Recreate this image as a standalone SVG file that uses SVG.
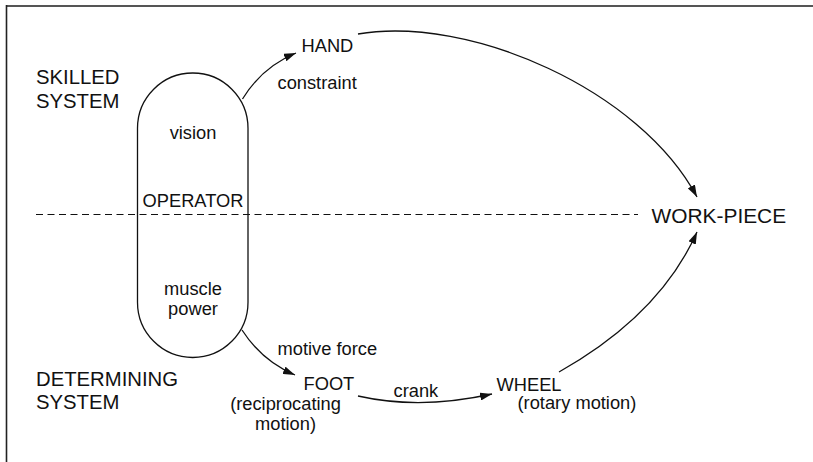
<svg xmlns="http://www.w3.org/2000/svg" width="813" height="462" viewBox="0 0 813 462">
<style>
text{font-family:"Liberation Sans",Arial,sans-serif;fill:#111}
.s{font-size:18.3px}
.b{font-size:20.3px}
.m{text-anchor:middle}
.c{fill:none;stroke:#111;stroke-width:1.3}
</style>
<defs>
<marker id="ah" viewBox="0 0 12 8" refX="12" refY="4" markerWidth="12" markerHeight="8" orient="auto" markerUnits="userSpaceOnUse"><path d="M0,0 L12,4 L0,8 z" fill="#111"/></marker>
</defs>
<rect width="813" height="462" fill="#fff"/>
<g id="frame">
<line x1="6" y1="6" x2="813" y2="6" stroke="#555" stroke-width="2"/>
<line x1="6.5" y1="5" x2="6.5" y2="462" stroke="#222" stroke-width="1.6"/>
</g>
<g id="divider">
<line x1="36" y1="214.5" x2="638" y2="214.5" stroke="#111" stroke-width="1.2" stroke-dasharray="7 4.5"/>
</g>
<g id="labels">
<text class="b" x="36" y="84">SKILLED</text>
<text class="b" x="36" y="107.5">SYSTEM</text>
<text class="b" x="36" y="385.5">DETERMINING</text>
<text class="b" x="36" y="408.5">SYSTEM</text>
</g>
<g id="operator">
<rect class="c" x="137.5" y="73" width="110.5" height="284.5" rx="55.25" ry="55.25"/>
<text class="s m" x="193" y="139">vision</text>
<text class="s m" x="193" y="206.5">OPERATOR</text>
<text class="s m" x="193" y="295">muscle</text>
<text class="s m" x="193" y="315">power</text>
</g>
<g id="hand"><text class="s" x="301.5" y="51.5">HAND</text></g>
<g id="foot">
<text class="s" x="303.5" y="390">FOOT</text>
<text class="s m" x="285.5" y="410">(reciprocating</text>
<text class="s m" x="285.5" y="430">motion)</text>
</g>
<g id="wheel">
<text class="s" x="496.5" y="390.5">WHEEL</text>
<text class="s" x="517.5" y="408.5">(rotary motion)</text>
</g>
<g id="workpiece"><text style="font-size:20.9px" x="651.5" y="222.5">WORK-PIECE</text></g>
<g id="connectors">
<path class="c" d="M242.5,99 Q262,67 296,53" marker-end="url(#ah)"/>
<path class="c" d="M358,34 C470,15 640,90 697,197" marker-end="url(#ah)"/>
<path class="c" d="M242,330 Q262,361 295,375" marker-end="url(#ah)"/>
<path class="c" d="M358,396 Q420,410 492,394" marker-end="url(#ah)"/>
<path class="c" d="M559,372 Q660,315 697,232" marker-end="url(#ah)"/>
<text class="s" x="277.5" y="88.5">constraint</text>
<text class="s" x="277.5" y="354.5">motive force</text>
<text class="s" x="393.5" y="396.5">crank</text>
</g>
</svg>
